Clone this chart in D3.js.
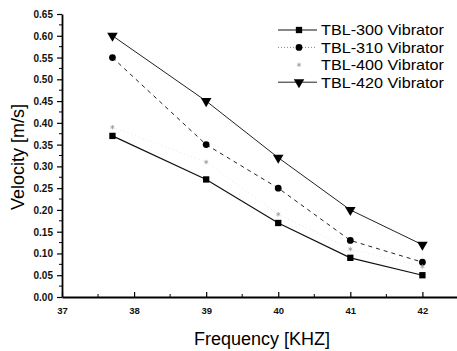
<!DOCTYPE html>
<html>
<head>
<meta charset="utf-8">
<script src="https://cdn.jsdelivr.net/npm/d3@7"></script>
<style>
  body { margin: 0; background: #fff; }
  svg { display: block; font-family: "Liberation Sans", Arial, sans-serif; }
</style>
</head>
<body>
<div id="chart"></div>
<script>
// data
const freqs = [37.7, 39, 40, 41, 42];
const tbl300 = [0.37, 0.27, 0.17, 0.09, 0.05];
const tbl310 = [0.55, 0.35, 0.25, 0.13, 0.08];
const tbl400 = [0.39, 0.31, 0.19, 0.11, 0.07];
const tbl420 = [0.60, 0.45, 0.32, 0.20, 0.12];
const seriesNames = ["TBL-300 Vibrator", "TBL-310 Vibrator", "TBL-400 Vibrator", "TBL-420 Vibrator"];
const xTicks = [37, 38, 39, 40, 41, 42];
const yTicks = d3.range(0, 0.651, 0.05);

const width = 457, height = 351;
const margin = { top: 14, right: 0, bottom: 54, left: 62 };

const svg = d3.select("#chart").append("svg")
  .attr("width", width)
  .attr("height", height);

const x = d3.scaleLinear().domain([37, 42.48]).range([margin.left, width - margin.right]);
const y = d3.scaleLinear().domain([0, 0.65]).range([height - margin.bottom, margin.top]);

// axes
const xAxis = svg.append("g")
  .attr("transform", `translate(0,${y(0)})`)
  .call(d3.axisBottom(x).tickValues(xTicks).tickFormat(d3.format("d")).tickSizeInner(-5).tickSizeOuter(0).tickPadding(10));
xAxis.append("g").selectAll("line")
  .data(d3.range(37.5, 42.5, 1))
  .join("line")
  .attr("x1", d => x(d)).attr("x2", d => x(d))
  .attr("y1", 0).attr("y2", -3)
  .attr("stroke", "#000");

const yAxis = svg.append("g")
  .attr("transform", `translate(${x(37)},0)`)
  .call(d3.axisLeft(y).tickValues(yTicks).tickFormat(d3.format(".2f")).tickSizeInner(5).tickSizeOuter(0).tickPadding(4));
yAxis.append("g").selectAll("line")
  .data(d3.range(0.025, 0.65, 0.05))
  .join("line")
  .attr("x1", 0).attr("x2", -3)
  .attr("y1", d => y(d)).attr("y2", d => y(d))
  .attr("stroke", "#000");

svg.selectAll(".domain").attr("stroke-width", 1.8);
svg.selectAll(".tick line").attr("stroke-width", 1.2);
svg.selectAll(".tick text").attr("font-size", 9.5).attr("font-weight", "bold").attr("fill", "#111");
yAxis.selectAll(".tick text").attr("dy", "0.35em").attr("font-size", 10);

// axis titles
svg.append("text")
  .attr("x", 262).attr("y", 345)
  .attr("text-anchor", "middle")
  .attr("font-size", 18)
  .text("Frequency [KHZ]");
svg.append("text")
  .attr("transform", `translate(24,157) rotate(-90)`)
  .attr("text-anchor", "middle")
  .attr("font-size", 18)
  .text("Velocity [m/s]");

// series
const series = [
  { values: tbl300, color: "#111", dash: null, marker: "square", width: 1.2 },
  { values: tbl310, color: "#222", dash: "4,4", marker: "circle", width: 1.0 },
  { values: tbl400, color: "#ddd", dash: "1,3", marker: "star", width: 0.7 },
  { values: tbl420, color: "#222", dash: null, marker: "triangle", width: 1.0 }
];

const line = d3.line().x(d => x(d[0])).y(d => y(d[1]));

const symbolFor = {
  square: d3.symbol().type(d3.symbolSquare).size(40),
  circle: d3.symbol().type(d3.symbolCircle).size(36),
  star: d3.symbol().type(d3.symbolAsterisk).size(14),
  triangle: d3.symbol().type(d3.symbolTriangle).size(48)
};

function drawMarker(g, s, cx, cy) {
  const p = g.append("path")
    .attr("d", symbolFor[s.marker]())
    .attr("transform", `translate(${cx},${cy})` + (s.marker === "triangle" ? " rotate(180)" : ""));
  if (s.marker === "star") {
    p.attr("fill", "none").attr("stroke", "#999").attr("stroke-width", 0.8);
  } else {
    p.attr("fill", "#000");
  }
}

series.forEach(s => {
  const pts = freqs.map((f, i) => [f, s.values[i]]);
  svg.append("path")
    .datum(pts)
    .attr("d", line)
    .attr("fill", "none")
    .attr("stroke", s.color)
    .attr("stroke-width", s.width)
    .attr("stroke-dasharray", s.dash);
  const g = svg.append("g");
  pts.forEach(p => drawMarker(g, s, x(p[0]), y(p[1])));
});

// legend
const legend = svg.append("g");
series.forEach((s, i) => {
  const ly = 30 + i * 17.4;
  if (s.marker !== "star") {
    legend.append("line")
      .attr("x1", 278).attr("x2", 317)
      .attr("y1", ly).attr("y2", ly)
      .attr("stroke", s.marker === "circle" ? "#888" : s.color)
      .attr("stroke-width", s.width)
      .attr("stroke-dasharray", s.marker === "circle" ? "1,2" : s.dash);
  }
  drawMarker(legend, s, 299, ly);
  legend.append("text")
    .attr("x", 321).attr("y", ly)
    .attr("dy", "0.36em")
    .attr("font-size", 15)
    .attr("textLength", 123)
    .attr("lengthAdjust", "spacingAndGlyphs")
    .text(seriesNames[i]);
});
</script>
</body>
</html>
